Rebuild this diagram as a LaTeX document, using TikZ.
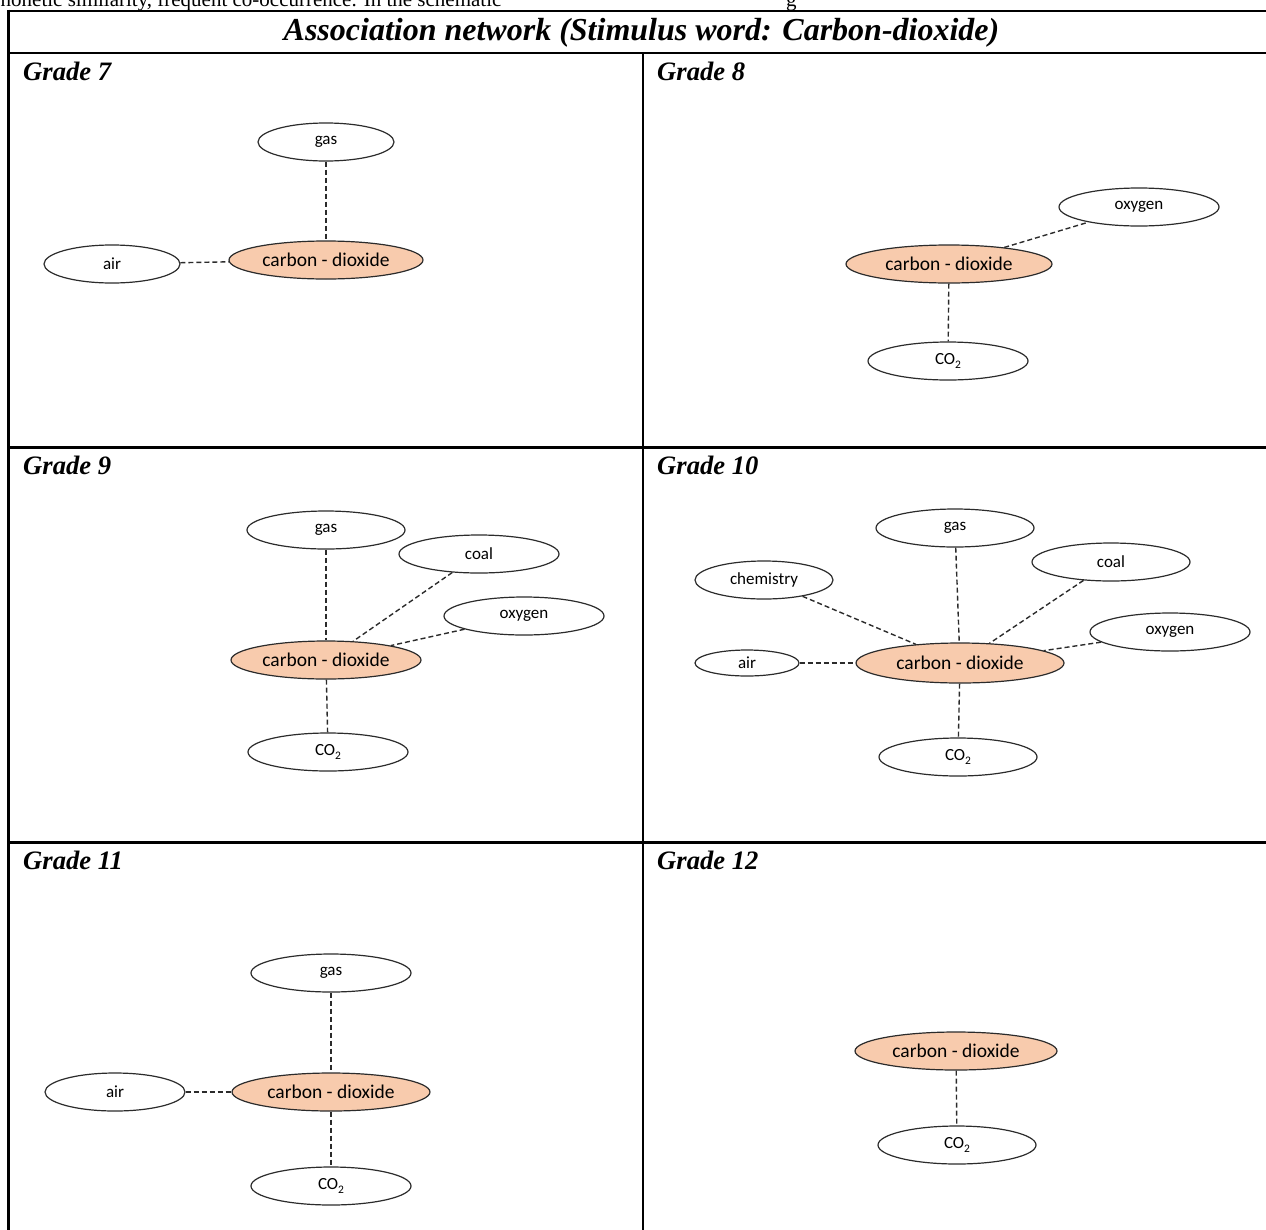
\documentclass[tikz,border=0pt]{standalone}
\usepackage{fontspec}
\setmainfont{Liberation Serif}
\newfontfamily\nodefont{Carlito}
\usetikzlibrary{shapes.geometric}

\definecolor{peach}{HTML}{F8CBAD}
\definecolor{rim}{HTML}{2B2B2B}

% subscript 2 for CO2 in the node font
\newcommand{\cotwo}{CO\raisebox{-3.5pt}{\fontsize{11.5}{11.5}\selectfont 2}}

\begin{document}
\begin{tikzpicture}[x=1pt,y=-1pt,
  rule/.style={line width=2.7pt},
  word/.style={ellipse, draw=rim, line width=1.2pt, inner sep=0pt,
    minimum height=38pt, font=\nodefont\fontsize{17}{17}\selectfont},
  hub/.style={word, fill=peach, font=\nodefont\fontsize{19.5}{19.5}\selectfont},
  link/.style={draw=rim, line width=1.4pt, dash pattern=on 5pt off 3pt},
  grade/.style={anchor=base west, inner sep=0pt,
    font=\bfseries\itshape\fontsize{26.6}{28}\selectfont},
]
\clip (0,0) rectangle (1266,1229);

% running text above the table
\node[anchor=base west, inner sep=0pt, font=\fontsize{21}{21}\selectfont] (body) at (-10,6)
  {phonetic similarity, frequent co-occurrence. In the schematic};
\node[anchor=base west, inner sep=0pt, font=\fontsize{21}{21}\selectfont] (bodyg) at (786,6) {g};

% table rules
\draw[rule] (8.7,11) -- (1280,11);
\draw[rule] (8.7,53) -- (1280,53);
\draw[rule] (8.7,447.5) -- (1280,447.5);
\draw[rule] (8.7,842.5) -- (1280,842.5);
\draw[rule] (8.7,9.65) -- (8.7,1240);
\draw[rule] (643,53) -- (643,1240);

% title and panel labels
\node[anchor=base, inner sep=0pt, font=\bfseries\itshape\fontsize{32}{34}\selectfont] (title) at (641.5,40)
  {Association network (Stimulus word: Carbon-dioxide)};
\node[grade] (l7)  at (23,80)    {Grade 7};
\node[grade] (l8)  at (657,80)   {Grade 8};
\node[grade] (l9)  at (23,474.5) {Grade 9};
\node[grade] (l10) at (657,474.5){Grade 10};
\node[grade] (l11) at (23,869)   {Grade 11};
\node[grade] (l12) at (657,869)  {Grade 12};

% Grade 7
\node[word, minimum width=136pt] (a-gas) at (326,142) {gas};
\node[word, minimum width=136pt] (a-air) at (112,264) {air};
\node[hub,  minimum width=194pt] (a-cd)  at (326,260) {carbon - dioxide};
\draw[link] (a-gas) -- (a-cd);
\draw[link] (a-air) -- (a-cd);

% Grade 8
\node[word, minimum width=160pt] (b-oxy) at (1139,207) {oxygen};
\node[hub,  minimum width=206pt] (b-cd)  at (949,264) {carbon - dioxide};
\node[word, minimum width=160pt] (b-co2) at (948,361) {\cotwo};
\draw[link] (b-cd) -- (b-oxy);
\draw[link] (b-cd) -- (b-co2);

% Grade 9
\node[word, minimum width=158pt] (c-gas)  at (326,530) {gas};
\node[word, minimum width=160pt] (c-coal) at (479,554) {coal};
\node[word, minimum width=160pt] (c-oxy)  at (524,616) {oxygen};
\node[hub,  minimum width=190pt] (c-cd)   at (326,660) {carbon - dioxide};
\node[word, minimum width=160pt] (c-co2)  at (328,752) {\cotwo};
\draw[link] (c-gas) -- (c-cd);
\draw[link] (c-coal) -- (c-cd);
\draw[link] (c-oxy) -- (c-cd);
\draw[link] (c-cd) -- (c-co2);

% Grade 10
\node[word, minimum width=158pt] (d-gas)  at (955,528) {gas};
\node[word, minimum width=158pt] (d-coal) at (1111,562) {coal};
\node[word, minimum width=138pt] (d-chem) at (764,580) {chemistry};
\node[word, minimum width=160pt] (d-oxy)  at (1170,632) {oxygen};
\node[word, minimum width=104pt, minimum height=26pt] (d-air) at (747,663) {air};
\node[hub,  minimum width=208pt, minimum height=40pt] (d-cd) at (960,663) {carbon - dioxide};
\node[word, minimum width=158pt] (d-co2)  at (958,757) {\cotwo};
\draw[link] (d-chem) -- (d-cd);
\draw[link] (d-gas) -- (d-cd);
\draw[link] (d-coal) -- (d-cd);
\draw[link] (d-oxy) -- (d-cd);
\draw[link] (d-air) -- (d-cd);
\draw[link] (d-cd) -- (d-co2);

% Grade 11
\node[word, minimum width=160pt] (e-gas) at (331,973) {gas};
\node[word, minimum width=140pt] (e-air) at (115,1092) {air};
\node[hub,  minimum width=198pt] (e-cd)  at (331,1092) {carbon - dioxide};
\node[word, minimum width=160pt] (e-co2) at (331,1186) {\cotwo};
\draw[link] (e-gas) -- (e-cd);
\draw[link] (e-air) -- (e-cd);
\draw[link] (e-cd) -- (e-co2);

% Grade 12
\node[hub,  minimum width=202pt] (f-cd)  at (956,1051) {carbon - dioxide};
\node[word, minimum width=158pt] (f-co2) at (957,1145) {\cotwo};
\draw[link] (f-cd) -- (f-co2);
\end{tikzpicture}
\end{document}
